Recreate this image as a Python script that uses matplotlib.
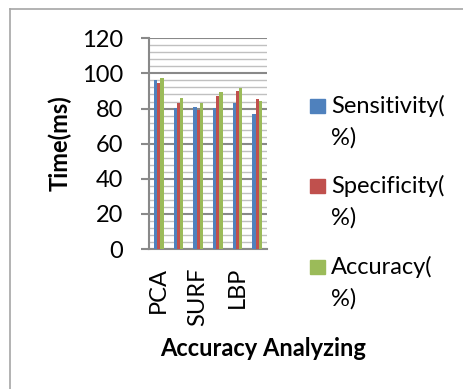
import matplotlib
matplotlib.use("Agg")
import matplotlib.pyplot as plt
import numpy as np
from matplotlib.lines import Line2D
from matplotlib.patches import Rectangle

categories = ["PCA", "", "SURF", "", "LBP", ""]
series_names = ["Sensitivity(\n%)", "Specificity(\n%)", "Accuracy(\n%)"]
sensitivity = [96.5, 80.1, 80.9, 80.3, 83.3, 76.9]
specificity = [94.5, 83.0, 79.0, 87.1, 90.0, 85.4]
accuracy = [97.2, 86.0, 83.3, 89.4, 91.7, 84.1]
colors = ["#4F81BD", "#C0504D", "#9BBB59"]
yticks = [0, 20, 40, 60, 80, 100, 120]

plt.rcParams['font.family'] = ['Lato', 'DejaVu Sans']

W, H = 464, 389
fig = plt.figure(figsize=(W / 100, H / 100), dpi=100)

def fx(px): return px / W
def fy(py): return 1 - py / H

ax = fig.add_axes([fx(149), fy(249), fx(267) - fx(149), fy(38.3) - fy(249)])

x = np.arange(len(categories))
bw = 1 / 6
for i, (vals, c) in enumerate(zip([sensitivity, specificity, accuracy], colors)):
    ax.bar(x + (i - 1) * bw, vals, width=bw, color=c, zorder=3)

ax.set_xlim(-0.5, len(categories) - 0.5)
ax.set_ylim(0, 120)
ax.set_yticks(yticks)
ax.set_yticks(np.arange(0, 121, 4), minor=True)
ax.grid(axis='y', which='minor', color='#C0C0C0', linewidth=1.0, zorder=1)
ax.grid(axis='y', which='major', color='#898989', linewidth=1.5, zorder=2)
ax.tick_params(axis='y', which='major', length=5.8, width=1.5, color='#898989',
               labelsize=17, pad=13)
ax.tick_params(axis='y', which='minor', length=0)
ax.set_xticks(x)
ax.set_xticklabels(categories, rotation=90, fontsize=17)
ax.tick_params(axis='x', length=0, pad=13)
for s in ['top', 'right']:
    ax.spines[s].set_visible(False)
for s in ['left', 'bottom']:
    ax.spines[s].set_color('#898989')
    ax.spines[s].set_linewidth(1.5)

fig.text(fx(60), fy(143), "Time(ms)", rotation=90, ha='center', va='center',
         fontsize=17, fontweight='bold')
fig.text(fx(263), fy(348), "Accuracy Analyzing", ha='center', va='center',
         fontsize=17, fontweight='bold')

# legend
ys = [106, 186, 267]
for yy, c, name in zip(ys, colors, series_names):
    fig.add_artist(Rectangle((fx(310), fy(yy + 7)), fx(325) - fx(310), fy(yy - 7) - fy(yy + 7),
                             transform=fig.transFigure, color=c))
    for k, ln in enumerate(name.split("\n")):
        fig.text(fx(331), fy(yy + 32 * k), ln, ha='left', va='center', fontsize=17)

# chart border
fig.add_artist(Line2D([fx(10), fx(10)], [fy(9), 0], transform=fig.transFigure,
                      color='#A6A6A6', linewidth=1.2))
fig.add_artist(Line2D([fx(10), 1], [fy(9), fy(9)], transform=fig.transFigure,
                      color='#A6A6A6', linewidth=1.2))

fig.savefig("out.png", dpi=100)
